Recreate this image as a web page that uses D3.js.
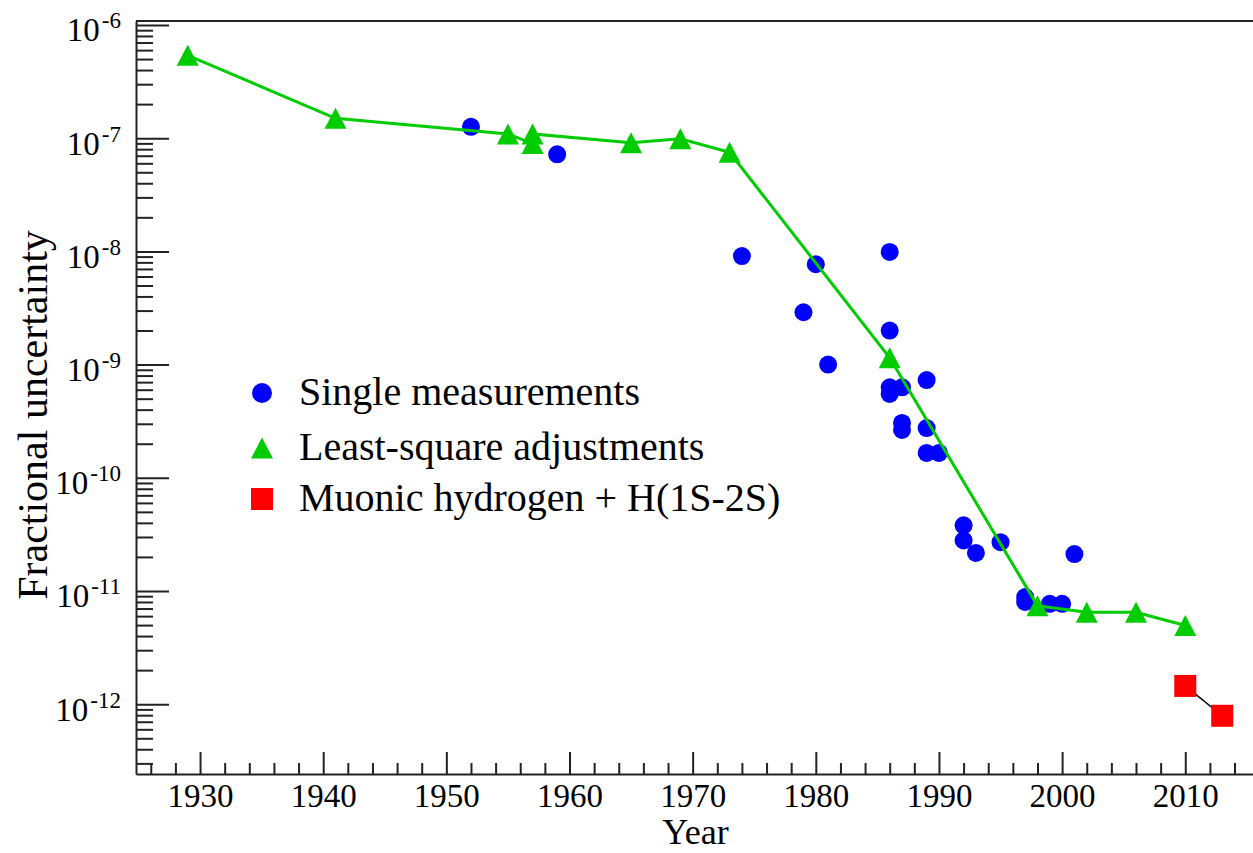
<!DOCTYPE html>
<html>
<head>
<meta charset="utf-8">
<script src="https://cdn.jsdelivr.net/npm/d3@7"></script>
<style>
  body { margin: 0; background: #fff; }
  svg { display: block; }
  text { font-family: "Liberation Serif", "Times New Roman", serif; fill: #000; }
</style>
</head>
<body>
<div id="chart"></div>
<script>
let width = 1253,
    height = 853,
    margin = ({ top: 21, right: 0, bottom: 79, left: 136 });

// single measurements (blue circles)
const singleYears  = [1952, 1959, 1974, 1979, 1980, 1981, 1986, 1986, 1986, 1986, 1987, 1989,
                      1987, 1987, 1989, 1989, 1990, 1992, 1992, 1993, 1995, 1997, 1997, 1999, 2000, 2001];
const singleValues = [1.26e-7, 7.2e-8, 9.1e-9, 2.9e-9, 7.7e-9, 1.0e-9, 9.9e-9, 2.0e-9, 6.3e-10, 5.5e-10, 6.3e-10, 7.3e-10,
                      3.05e-10, 2.65e-10, 2.75e-10, 1.66e-10, 1.66e-10, 3.8e-11, 2.8e-11, 2.17e-11, 2.7e-11, 8.85e-12, 8.0e-12, 7.7e-12, 7.7e-12, 2.12e-11];

// least-square adjustments (green triangles + line)
const lsaYears  = [1929, 1941, 1955, 1957, 1957, 1965, 1969, 1973, 1986, 1998, 2002, 2006, 2010];
const lsaValues = [5.4e-7, 1.5e-7, 1.09e-7, 8.97e-8, 1.09e-7, 9.1e-8, 9.9e-8, 7.5e-8, 1.15e-9, 7.4e-12, 6.5e-12, 6.5e-12, 4.95e-12];

// muonic hydrogen + H(1S-2S) (red squares)
const muonYears  = [2010, 2013];
const muonValues = [1.45e-12, 7.9e-13];

const xMajorTicks = [1930, 1940, 1950, 1960, 1970, 1980, 1990, 2000, 2010];
const yExponents = [-6, -7, -8, -9, -10, -11, -12];
const legendLabels = ["Single measurements", "Least-square adjustments", "Muonic hydrogen + H(1S-2S)"];

const blue = "#0000ff", green = "#00cc00", red = "#ff0000", ink = "#222";

const svg = d3.select("#chart")
  .append("svg")
  .attr("width", width)
  .attr("height", height)
  .attr("viewBox", [0, 0, width, height]);

let x = d3.scaleLinear()
  .domain([1924.8, 2015.5])
  .range([margin.left, width - margin.right]);

let y = d3.scaleLog()
  .domain([Math.pow(10, -12.6166), Math.pow(10, -5.9647)])
  .range([height - margin.bottom, margin.top]);

// minor ticks for log axis: 2..9 of each decade inside the domain
const yMinor = [];
for (let e = -13; e <= -6; e++) {
  for (let m = 2; m <= 9; m++) {
    const v = m * Math.pow(10, e);
    if (v > y.domain()[0] && v < y.domain()[1]) yMinor.push(v);
  }
}
const xMinor = d3.range(1926, 2016, 2).filter(d => d % 10 !== 0);

// x axis
svg.append("g")
  .attr("transform", `translate(0,${height - margin.bottom})`)
  .call(d3.axisBottom(x).tickValues(xMinor).tickSize(-11).tickSizeOuter(0).tickFormat(""))
  .call(g => g.select(".domain").remove());

svg.append("g")
  .attr("class", "x-axis")
  .attr("transform", `translate(0,${height - margin.bottom})`)
  .call(d3.axisBottom(x).tickValues(xMajorTicks).tickSize(-22).tickSizeOuter(0).tickPadding(12).tickFormat(d3.format("d")))
  .call(g => g.attr("font-family", null).attr("font-size", null))
  .call(g => g.selectAll(".tick text").attr("y", 33).attr("dy", null).attr("font-size", 33));

// y axis
svg.append("g")
  .attr("transform", `translate(${margin.left},0)`)
  .call(d3.axisLeft(y).tickValues(yMinor).tickSize(-17).tickSizeOuter(0).tickFormat(""))
  .call(g => g.select(".domain").remove());

const yAxis = svg.append("g")
  .attr("class", "y-axis")
  .attr("transform", `translate(${margin.left},0)`)
  .call(d3.axisLeft(y).tickValues(yExponents.map(e => Math.pow(10, e))).tickSize(-33).tickSizeOuter(0).tickFormat(""))
  .call(g => g.attr("font-family", null).attr("font-size", null));

yAxis.selectAll(".tick text").remove();
yAxis.selectAll(".tick").each(function(d) {
  const t = d3.select(this).append("text")
    .attr("x", -15)
    .attr("y", 16)
    .attr("text-anchor", "end")
    .attr("font-size", 33);
  t.append("tspan").text("10");
  t.append("tspan").attr("dy", -13).attr("dx", 2).attr("font-size", 23).text(Math.round(Math.log10(d)));
});

svg.selectAll(".tick line").attr("stroke", ink).attr("stroke-width", 2);
svg.selectAll(".domain").attr("stroke", ink).attr("stroke-width", 2);

// top frame line
svg.append("line")
  .attr("x1", margin.left).attr("x2", width)
  .attr("y1", margin.top).attr("y2", margin.top)
  .attr("stroke", ink).attr("stroke-width", 2);

// axis titles
svg.append("text")
  .attr("x", (margin.left + width) / 2 + 1)
  .attr("y", 844)
  .attr("text-anchor", "middle")
  .attr("font-size", 36)
  .text("Year");

svg.append("text")
  .attr("transform", `translate(47,415) rotate(-90)`)
  .attr("text-anchor", "middle")
  .attr("font-size", 42)
  .text("Fractional uncertainty");

// blue circles
svg.append("g")
  .attr("fill", blue)
  .selectAll("circle")
  .data(singleYears.map((d, i) => ({ year: d, value: singleValues[i] })))
  .join("circle")
  .attr("cx", d => x(d.year))
  .attr("cy", d => y(d.value))
  .attr("r", 9);

// green line + triangles
const lsa = lsaYears.map((d, i) => ({ year: d, value: lsaValues[i] }));
svg.append("path")
  .datum(lsa)
  .attr("fill", "none")
  .attr("stroke", green)
  .attr("stroke-width", 3)
  .attr("d", d3.line().x(d => x(d.year)).y(d => y(d.value)));

const tri = "M0,-10.5L11,10.5L-11,10.5Z";
svg.append("g")
  .attr("fill", green)
  .selectAll("path")
  .data(lsa)
  .join("path")
  .attr("transform", d => `translate(${x(d.year)},${y(d.value)})`)
  .attr("d", tri);

// red squares + connecting line
const muon = muonYears.map((d, i) => ({ year: d, value: muonValues[i] }));
svg.append("path")
  .datum(muon)
  .attr("fill", "none")
  .attr("stroke", "#000")
  .attr("stroke-width", 1.5)
  .attr("d", d3.line().x(d => x(d.year)).y(d => y(d.value)));

svg.append("g")
  .attr("fill", red)
  .selectAll("rect")
  .data(muon)
  .join("rect")
  .attr("x", d => x(d.year) - 11)
  .attr("y", d => y(d.value) - 11)
  .attr("width", 22)
  .attr("height", 22);

// legend
const legend = svg.append("g").attr("transform", "translate(262,0)");
const rowsY = [393, 448, 499];
legend.append("circle").attr("cx", 0).attr("cy", rowsY[0]).attr("r", 10).attr("fill", blue);
legend.append("path").attr("transform", `translate(0,${rowsY[1]})`).attr("d", tri).attr("fill", green);
legend.append("rect").attr("x", -11).attr("y", rowsY[2] - 11).attr("width", 22).attr("height", 22).attr("fill", red);
legend.selectAll("text")
  .data(legendLabels)
  .join("text")
  .attr("x", 37)
  .attr("y", (d, i) => rowsY[i] + 12)
  .attr("font-size", 40)
  .text(d => d);
</script>
</body>
</html>
